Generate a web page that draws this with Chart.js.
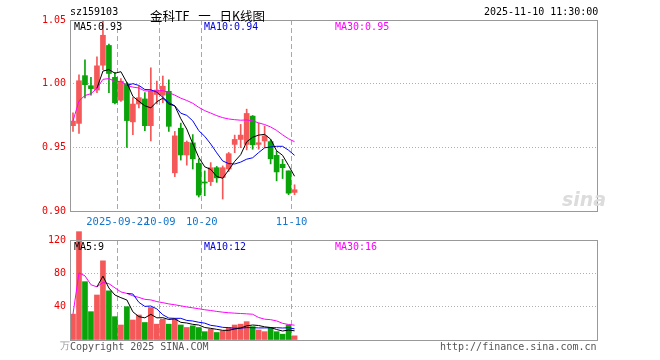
<!DOCTYPE html>
<html>
<head>
<meta charset="utf-8">
<title>sz159103 日K线图</title>
<script src="https://cdn.jsdelivr.net/npm/chart.js@4.4.1/dist/chart.umd.min.js"></script>
<style>
  body { margin: 0; background: #fff; }
  #wrap { position: relative; width: 660px; height: 360px; overflow: hidden; font-family: "DejaVu Sans Mono", monospace; font-size: 10px; }
  #wrap canvas { position: absolute; left: 0; }
  .t { position: absolute; white-space: pre; line-height: 1; }
</style>
</head>
<body>
<div id="wrap">
  <canvas id="kline" width="660" height="232" style="top:0"></canvas>
  <canvas id="vol" width="660" height="130" style="top:230px"></canvas>

  <div class="t" style="left:70px;top:7px">sz159103</div>
  <div class="t" style="left:150px;top:6px;font:12.5px 'Noto Sans CJK SC';word-spacing:6px;">金科TF 一 日K线图</div>
  <div class="t" style="left:484px;top:7px">2025-11-10 11:30:00</div>

  <div class="t" style="left:74px;top:22px;color:#000">MA5:0.93</div>
  <div class="t" style="left:204px;top:22px;color:#0000e0">MA10:0.94</div>
  <div class="t" style="left:335px;top:22px;color:#ff00ff">MA30:0.95</div>

  <div class="t" style="left:74px;top:242px;color:#000">MA5:9</div>
  <div class="t" style="left:204px;top:242px;color:#0000e0">MA10:12</div>
  <div class="t" style="left:335px;top:242px;color:#ff00ff">MA30:16</div>

  <div class="t" style="left:60px;top:341px;color:#999">万</div>
  <div class="t" style="left:70px;top:342px;color:#555">Copyright 2025 SINA.COM</div>
  <div class="t" style="left:440px;top:342px;color:#555">http://finance.sina.com.cn</div>
  <div class="t" style="left:562px;top:188px;font:italic bold 19px 'DejaVu Sans';color:#dcdcdc">sina</div>
</div>
<script>
// trading days shown (fund listed 2025-09-10)
const dates = [
  '2025-09-10','2025-09-11','2025-09-12','2025-09-15','2025-09-16','2025-09-17','2025-09-18','2025-09-19',
  '2025-09-22','2025-09-23','2025-09-24','2025-09-25','2025-09-26','2025-09-29','2025-09-30',
  '2025-10-09','2025-10-10','2025-10-13','2025-10-14','2025-10-15','2025-10-16','2025-10-17',
  '2025-10-20','2025-10-21','2025-10-22','2025-10-23','2025-10-24','2025-10-27','2025-10-28',
  '2025-10-29','2025-10-30','2025-10-31','2025-11-03','2025-11-04','2025-11-05','2025-11-06',
  '2025-11-07','2025-11-10'
];
const tickIdx = [8, 15, 22, 37];
const tickLabels = ['2025-09-22', '10-09', '10-20', '11-10'];
const totalSlots = 88;

const opens = [0.967, 0.9688, 1.0063, 0.9984, 0.995, 1.0145, 1.030, 1.005, 0.987, 1.000,
  0.970, 0.984, 0.988, 0.967, 0.9915, 0.991, 0.994, 0.930, 0.965, 0.944,
  0.9535, 0.9375, 0.9225, 0.923, 0.934, 0.9263, 0.933, 0.9523, 0.9562, 0.9523,
  0.9745, 0.9523, 0.955, 0.9545, 0.9437, 0.9367, 0.9315, 0.9146];
const highs = [0.977, 1.007, 1.0188, 1.005, 1.021, 1.049, 1.031, 1.009, 1.004, 1.001,
  0.989, 0.998, 0.993, 1.0125, 1.002, 1.006, 1.003, 0.9625, 0.969, 0.955,
  0.960, 0.941, 0.9315, 0.938, 0.935, 0.9354, 0.946, 0.9596, 0.968, 0.980,
  0.975, 0.969, 0.9667, 0.956, 0.947, 0.9406, 0.9315, 0.9206];
const lows = [0.9625, 0.961, 0.9888, 0.991, 0.993, 1.011, 0.993, 0.984, 0.986, 0.950,
  0.960, 0.981, 0.963, 0.955, 0.984, 0.985, 0.9625, 0.927, 0.940, 0.936,
  0.933, 0.911, 0.912, 0.920, 0.9225, 0.9094, 0.931, 0.9458, 0.9497, 0.948,
  0.9485, 0.9485, 0.9497, 0.937, 0.9237, 0.9255, 0.9128, 0.9128];
const closes = [0.9706, 1.0023, 0.9992, 0.9961, 1.014, 1.038, 1.008, 0.985, 1.002, 0.971,
  0.984, 0.989, 0.967, 0.994, 0.995, 0.998, 0.9665, 0.959, 0.944, 0.954,
  0.941, 0.9125, 0.922, 0.934, 0.926, 0.934, 0.945, 0.9562, 0.9596, 0.9766,
  0.952, 0.9536, 0.959, 0.941, 0.9307, 0.934, 0.914, 0.9167];

const ma5 = [null, null, null, null, 0.9964, 1.0099, 1.0111, 1.0082, 1.0094, 1.0008,
  0.990, 0.9862, 0.9826, 0.981, 0.9858, 0.9886, 0.9841, 0.9825, 0.9725, 0.9643,
  0.9529, 0.9421, 0.9347, 0.9327, 0.9271, 0.9257, 0.9322, 0.939, 0.9442, 0.9543,
  0.9579, 0.9596, 0.9602, 0.9564, 0.9473, 0.9437, 0.9357, 0.9273];
const ma10 = [null, null, null, null, null, null, null, null, null, 0.9986,
  1.000, 0.9986, 0.9954, 0.9952, 0.9933, 0.9893, 0.9852, 0.9826, 0.9768, 0.9751,
  0.9708, 0.9631, 0.9586, 0.9526, 0.9457, 0.9393, 0.9372, 0.9369, 0.9384, 0.9407,
  0.9418, 0.9459, 0.9496, 0.9503, 0.9508, 0.9508, 0.9477, 0.9437];
const ma30 = [0.9706, 0.9865, 0.9907, 0.9921, 0.9964, 1.0034, 1.004, 1.0017, 1.0017, 0.9986,
  0.9973, 0.9966, 0.9943, 0.9943, 0.9943, 0.9946, 0.9929, 0.991, 0.9886, 0.9868,
  0.9846, 0.9814, 0.9788, 0.9769, 0.9749, 0.9733, 0.9723, 0.9717, 0.9713, 0.9715,
  0.9708, 0.9692, 0.9679, 0.966, 0.9633, 0.9598, 0.9567, 0.9544];

// volume, 万手
const volumes = [31, 130, 70, 34, 54, 95, 59, 28, 18, 40,
  24, 30, 21, 39, 19, 25, 19, 25, 18, 15,
  17, 15, 10, 13, 9, 11, 15, 18, 19, 22,
  16, 12, 10, 15, 10, 7, 18, 5];
const vma5 = [null, null, null, null, 63.8, 76.6, 62.4, 54, 50.8, 48,
  33.8, 28, 26.6, 30.8, 26.6, 26.8, 24.6, 25.4, 21.2, 20.4,
  18.8, 18, 15, 14, 12.8, 11.6, 11.6, 13.2, 14.4, 17,
  18, 17.4, 15.8, 15, 12.6, 10.8, 12, 11];
const vma10 = [null, null, null, null, null, null, null, null, null, 55.9,
  55.2, 45.2, 40.3, 40.8, 37.3, 30.3, 26.3, 26, 26, 23.5,
  22.8, 21.3, 20.2, 17.6, 16.6, 15.2, 14.8, 14.1, 14.2, 14.9,
  14.8, 14.5, 14.5, 14.7, 14.8, 14.4, 14.7, 13.4];
const vma30 = [31, 80.5, 77, 66.3, 63.8, 69, 67.6, 62.6, 57.7, 55.9,
  53, 51.1, 48.8, 48.1, 46.1, 44.8, 43.3, 42.3, 41, 39.7,
  38.6, 37.5, 36.3, 35.4, 34.3, 33.4, 32.7, 32.2, 31.8, 31.4,
  30.9, 27, 25, 24.4, 22.9, 20, 18.6, 17.8];

const RED = '#f55858';
const GREEN = '#0aa30a';
const colors = closes.map((c, i) => c >= opens[i] ? RED : GREEN);
const labels = dates.concat(Array(totalSlots - dates.length).fill(''));

Chart.defaults.font.family = 'DejaVu Sans Mono';
Chart.defaults.font.size = 10;

const frame = {
  id: 'frame',
  afterDatasetsDraw(chart) {
    const { ctx, chartArea: a } = chart;
    ctx.save();
    ctx.strokeStyle = '#999';
    ctx.lineWidth = 1;
    ctx.strokeRect(Math.round(a.left) + 0.5, Math.round(a.top) + 0.5,
      Math.round(a.right - a.left), Math.round(a.bottom - a.top));
    ctx.restore();
  }
};

function maLine(data, color) {
  return { type: 'line', data: data, borderColor: color, borderWidth: 1,
    pointRadius: 0, tension: 0, order: 0, clip: false };
}

function xScale(showTicks, h) {
  return {
    offset: true,
    grid: {
      offset: true, drawTicks: false,
      color: c => tickIdx.includes(c.index) ? '#a8a8a8' : 'rgba(0,0,0,0)'
    },
    border: { display: false, dash: [5, 3] },
    ticks: {
      display: showTicks, autoSkip: false, maxRotation: 0, minRotation: 0,
      padding: 5, labelOffset: -3, color: '#1476cc', font: { size: 10.5 },
      callback: (v, i) => {
        const k = tickIdx.indexOf(i);
        return k >= 0 ? tickLabels[k] : '';
      }
    },
    afterFit: s => { s.height = h; }
  };
}

new Chart(document.getElementById('kline'), {
  type: 'bar',
  data: {
    labels: labels,
    datasets: [
      maLine(ma5, '#000000'),
      maLine(ma10, '#0000ff'),
      maLine(ma30, '#ff00ff'),
      { data: opens.map((o, i) => [o, closes[i]]), backgroundColor: colors,
        barThickness: 5, minBarLength: 1, grouped: false, order: 1, borderWidth: 0 },
      { data: lows.map((l, i) => [l, highs[i]]), backgroundColor: colors,
        barThickness: 1, grouped: false, order: 2, borderWidth: 0, clip: false }
    ]
  },
  options: {
    responsive: false,
    animation: false,
    layout: { padding: { top: 20, right: 63, left: 0, bottom: 0 } },
    plugins: { legend: { display: false }, tooltip: { enabled: false } },
    scales: {
      x: xScale(true, 21),
      y: {
        min: 0.90, max: 1.05,
        grid: { drawTicks: false,
          color: c => (c.tick.value > 0.91 && c.tick.value < 1.04) ? '#b0b0b0' : 'rgba(0,0,0,0)' },
        border: { display: false, dash: [1, 2] },
        ticks: { stepSize: 0.05, padding: 4, color: '#ee0000',
          callback: v => v.toFixed(2) },
        afterFit: s => { s.width = 70; }
      }
    }
  },
  plugins: [frame]
});

new Chart(document.getElementById('vol'), {
  type: 'bar',
  data: {
    labels: labels,
    datasets: [
      maLine(vma5, '#000000'),
      maLine(vma10, '#0000ff'),
      maLine(vma30, '#ff00ff'),
      { data: volumes, backgroundColor: colors, barThickness: 5, grouped: false,
        order: 1, borderWidth: 0, clip: false }
    ]
  },
  options: {
    responsive: false,
    animation: false,
    layout: { padding: { top: 10, right: 63, left: 0, bottom: 20 } },
    plugins: { legend: { display: false }, tooltip: { enabled: false } },
    scales: {
      x: xScale(false, 0),
      y: {
        min: 0, max: 120,
        grid: { drawTicks: false,
          color: c => (c.tick.value > 0 && c.tick.value < 120) ? '#b0b0b0' : 'rgba(0,0,0,0)' },
        border: { display: false, dash: [1, 2] },
        ticks: { stepSize: 40, padding: 4, color: '#ee0000',
          callback: v => v === 0 ? '' : v },
        afterFit: s => { s.width = 70; }
      }
    }
  },
  plugins: [frame]
});
</script>
</body>
</html>
